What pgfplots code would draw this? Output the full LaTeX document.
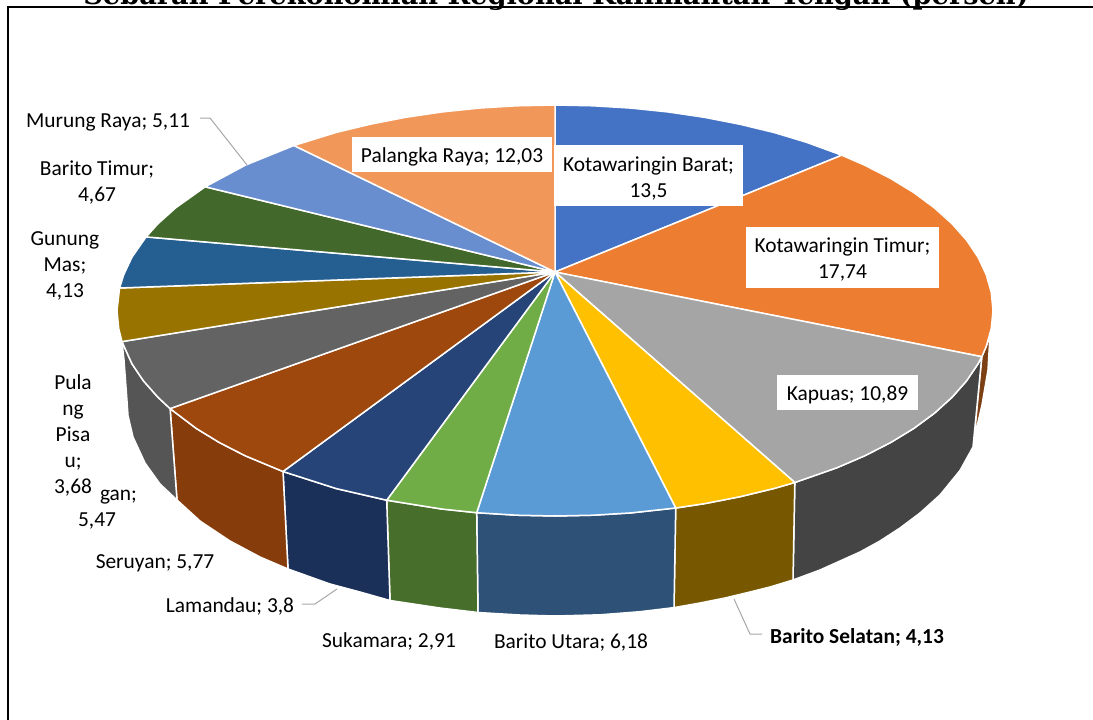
\documentclass[border=0pt]{standalone}
\usepackage{fontspec}
\setmainfont{Carlito}
\newfontfamily\titlefont{DejaVu Serif}
\usepackage{pgfplots}
\pgfplotsset{compat=1.18}
\definecolor{cA}{HTML}{4472C4}
\definecolor{cB}{HTML}{ED7D31}
\definecolor{cC}{HTML}{A5A5A5}
\definecolor{cD}{HTML}{FFC000}
\definecolor{cE}{HTML}{5B9BD5}
\definecolor{cF}{HTML}{70AD47}
\definecolor{cG}{HTML}{264478}
\definecolor{cH}{HTML}{9E480E}
\definecolor{cI}{HTML}{636363}
\definecolor{cJ}{HTML}{997300}
\definecolor{cK}{HTML}{255E91}
\definecolor{cL}{HTML}{43682B}
\definecolor{cM}{HTML}{698ED0}
\definecolor{cN}{HTML}{F1975A}
\definecolor{wB}{HTML}{7D3F14}
\definecolor{wC}{HTML}{444444}
\definecolor{wD}{HTML}{775700}
\definecolor{wE}{HTML}{2E5178}
\definecolor{wF}{HTML}{486E2C}
\definecolor{wG}{HTML}{1B3059}
\definecolor{wH}{HTML}{863C0B}
\definecolor{wI}{HTML}{555555}
\tikzset{
    wall/.style={draw=white, line width=1.5pt, line join=round},
    slice/.style={draw=white, line width=1.5pt, line join=round},
    lab/.style={font=\fontsize{21.4}{26}\selectfont, align=center, inner sep=0pt, text=black},
    box/.style={fill=white, inner sep=0pt},
    leader/.style={draw=black!35, line width=1pt},
}
\begin{document}
\begin{tikzpicture}
\useasboundingbox (0,0) rectangle (1093pt,720pt);
\clip (0,0) rectangle (1093pt,720pt);
\begin{axis}[
    at={(0,0)}, anchor=south west,
    scale only axis, width=1093pt, height=720pt,
    xmin=0, xmax=1093, ymin=0, ymax=720, y dir=reverse,
    hide axis, clip=false,
]
% title, cut off by the top of the page
\node[font=\titlefont\bfseries\fontsize{27.2}{30}\selectfont, anchor=base] at (axis cs:556,4.5) {Sebaran Perekonomian Regional Kalimantan Tengah (persen)};
\addplot[black, line width=2pt] coordinates {(7.5,720) (7.5,7) (1093,7)};

% side walls
\addplot[wall, fill=wB] coordinates {(981.8,356.7) (986.3,346.2) (990,335) (988,370) (982,405) (975,435) (973,450)} -- cycle;
\addplot[wall, fill=wC] coordinates {(981.8,356.7) (978.1,363.7) (966.6,380.8) (952,397.3) (934.3,413.3) (913.8,428.4) (890.5,442.6) (864.7,455.8) (836.5,467.9) (794.8,482.5) (793,580) (820,570) (840,561) (860,552) (880,541) (900,528) (920,513) (940,495) (960,470.5) (973,447)} -- cycle;
\addplot[wall, fill=wD] coordinates {(794.8,482.5) (774,488.5) (740.1,496.7) (704.8,503.6) (675.7,508) (674,607.6) (700,603) (725,598) (750,592) (770,587) (793,580)} -- cycle;
\addplot[wall, fill=wE] coordinates {(675.7,508) (631,512.9) (593.2,515.2) (555,516) (516.8,515.2) (476.7,512.7) (478,612.5) (520,615) (555,616) (600,614.8) (640,611.7) (674,607.6)} -- cycle;
\addplot[wall, fill=wF] coordinates {(476.7,512.7) (441.6,509) (386.7,500.2) (390,600.5) (440,608) (478,612.5)} -- cycle;
\addplot[wall, fill=wG] coordinates {(386.7,500.2) (336,488.5) (283,471.5) (288,569) (330,584) (360,592) (390,600.5)} -- cycle;
\addplot[wall, fill=wH] coordinates {(283,471.5) (245.3,455.8) (219.5,442.6) (196.2,428.4) (170.1,408.6) (177,500) (200,521) (230,541) (260,557) (288,569)} -- cycle;
\addplot[wall, fill=wI] coordinates {(170.1,408.6) (158,397.3) (143.4,380.8) (131.9,363.7) (122,341.6) (124,360) (127,401) (128,415.6) (133,437) (145,463) (160,484) (177,500)} -- cycle;

% top of the pie, one polygon per region
\addplot[slice, fill=cA] coordinates {(555,272) (555,105) (593.2,105.8) (631,108.1) (668.4,112) (704.8,117.4) (740.1,124.3) (774,132.5) (806.2,142.2) (841.8,155.2)} -- cycle;
\addplot[slice, fill=cB] coordinates {(555,272) (841.8,155.2) (864.7,165.2) (890.5,178.4) (913.8,192.6) (934.3,207.8) (952,223.7) (966.6,240.2) (978.1,257.3) (986.3,274.8) (991.3,292.6) (993,310.5) (991.3,328.4) (986.3,346.2) (981.8,356.7)} -- cycle;
\addplot[slice, fill=cC] coordinates {(555,272) (981.8,356.7) (978.1,363.7) (966.6,380.8) (952,397.3) (934.3,413.3) (913.8,428.4) (890.5,442.6) (864.7,455.8) (836.5,467.9) (794.8,482.5)} -- cycle;
\addplot[slice, fill=cD] coordinates {(555,272) (794.8,482.5) (774,488.5) (740.1,496.7) (704.8,503.6) (675.7,508)} -- cycle;
\addplot[slice, fill=cE] coordinates {(555,272) (675.7,508) (631,512.9) (593.2,515.2) (555,516) (516.8,515.2) (476.7,512.7)} -- cycle;
\addplot[slice, fill=cF] coordinates {(555,272) (476.7,512.7) (441.6,509) (386.7,500.2)} -- cycle;
\addplot[slice, fill=cG] coordinates {(555,272) (386.7,500.2) (336,488.5) (283,471.5)} -- cycle;
\addplot[slice, fill=cH] coordinates {(555,272) (283,471.5) (245.3,455.8) (219.5,442.6) (196.2,428.4) (170.1,408.6)} -- cycle;
\addplot[slice, fill=cI] coordinates {(555,272) (170.1,408.6) (158,397.3) (143.4,380.8) (131.9,363.7) (122,341.6)} -- cycle;
\addplot[slice, fill=cJ] coordinates {(555,272) (122,341.6) (118.7,328.4) (117,310.5) (119.6,288)} -- cycle;
\addplot[slice, fill=cK] coordinates {(555,272) (119.6,288) (123.7,274.8) (131.9,257.3) (146.1,236.9)} -- cycle;
\addplot[slice, fill=cL] coordinates {(555,272) (146.1,236.9) (158,223.7) (175.7,207.8) (205.2,186.8)} -- cycle;
\addplot[slice, fill=cM] coordinates {(555,272) (205.2,186.8) (245.3,165.2) (293.9,145.5)} -- cycle;
\addplot[slice, fill=cN] coordinates {(555,272) (293.9,145.5) (336,132.5) (369.9,124.3) (405.2,117.4) (441.6,112) (479,108.1) (516.8,105.8) (555,105)} -- cycle;

% leader lines
\addplot[leader] coordinates {(200,118) (210,118) (247,165)};
\addplot[leader] coordinates {(302,604) (315,604) (337,589)};
\addplot[leader] coordinates {(734,599) (750,634) (762,634)};

% white boxes behind the labels on the pie
\node[box, minimum width=200pt, minimum height=35pt] at (axis cs:452,154.5) {};
\node[box, minimum width=189pt, minimum height=61pt] at (axis cs:648.5,175.5) {};
\node[box, minimum width=193pt, minimum height=61pt] at (axis cs:842.5,257.5) {};
\node[box, minimum width=141pt, minimum height=35pt] at (axis cs:847.5,392.5) {};

% data labels
\node[lab] at (axis cs:452,156.5) {Palangka Raya; 12,03};
\node[lab] at (axis cs:648.5,178.5) {Kotawaringin Barat;\\13,5};
\node[lab] at (axis cs:842.5,260) {Kotawaringin Timur;\\17,74};
\node[lab] at (axis cs:847.5,395) {Kapuas; 10,89};
\node[lab] at (axis cs:108,122) {Murung Raya; 5,11};
\node[lab] at (axis cs:97,183) {Barito Timur;\\4,67};
\node[lab] at (axis cs:65,266) {Gunung\\Mas;\\4,13};
\node[lab] at (axis cs:73,435) {Pula\\ng\\Pisa\\u;\\3,68};
\node[lab] at (axis cs:118.5,497) {gan;};
\node[lab] at (axis cs:97,521) {5,47};
\node[lab] at (axis cs:155,563) {Seruyan; 5,77};
\node[lab] at (axis cs:230,606) {Lamandau; 3,8};
\node[lab] at (axis cs:389,641) {Sukamara; 2,91};
\node[lab] at (axis cs:571,643) {Barito Utara; 6,18};
\node[lab, font=\fontsize{21.4}{26}\selectfont\bfseries] at (axis cs:857,637) {Barito Selatan; 4,13};
\end{axis}
\end{tikzpicture}
\end{document}
